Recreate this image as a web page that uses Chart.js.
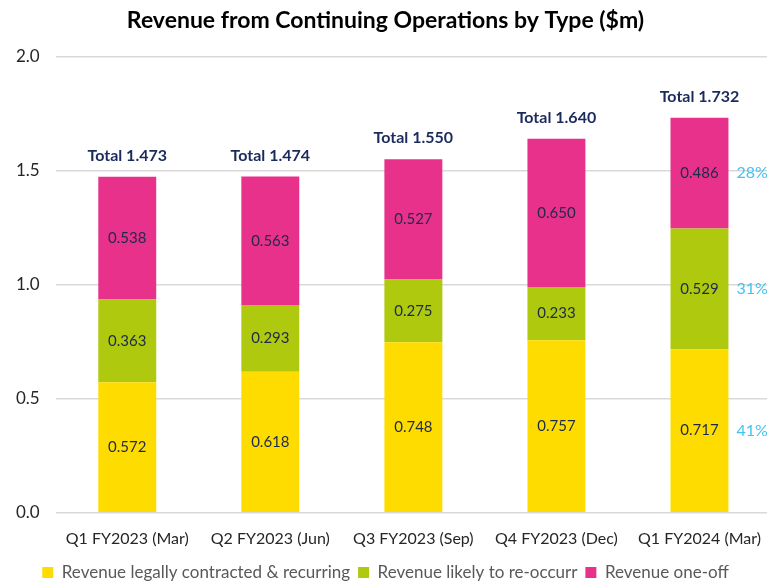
<!DOCTYPE html>
<html>
<head>
<meta charset="utf-8">
<script src="https://cdn.jsdelivr.net/npm/chart.js@4/dist/chart.umd.min.js"></script>
<style>
  html, body { margin: 0; padding: 0; background: #fff; overflow: hidden; }
</style>
</head>
<body>
<canvas id="grafico" width="771" height="583"></canvas>
<script>
const categorias = ['Q1 FY2023 (Mar)', 'Q2 FY2023 (Jun)', 'Q3 FY2023 (Sep)', 'Q4 FY2023 (Dec)', 'Q1 FY2024 (Mar)'];
const contratado = [0.572, 0.618, 0.748, 0.757, 0.717];
const recurrente = [0.363, 0.293, 0.275, 0.233, 0.529];
const unaVez = [0.538, 0.563, 0.527, 0.650, 0.486];
const totales = [1.473, 1.474, 1.550, 1.640, 1.732];
const porcentajes = ['41%', '31%', '28%'];
const ticksY = [0, 0.5, 1.0, 1.5, 2.0];

const fuente = 'Lato, "Open Sans", sans-serif';

// etiquetas de valores, totales y porcentajes
const etiquetas = {
    id: 'etiquetas',
    afterDatasetsDraw(chart) {
        const ctx = chart.ctx;
        ctx.save();
        ctx.textAlign = 'center';
        ctx.textBaseline = 'middle';
        ctx.font = '15px ' + fuente;
        ctx.fillStyle = '#1E2A4A';
        chart.data.datasets.forEach((ds, i) => {
            chart.getDatasetMeta(i).data.forEach((bar, j) => {
                const y = (bar.y + bar.base) / 2;
                ctx.fillText(ds.data[j].toFixed(3), bar.x, y);
            });
        });
        const ultimo = chart.getDatasetMeta(2).data;
        ctx.font = 'bold 16px ' + fuente;
        ctx.fillStyle = '#1B2A5C';
        ultimo.forEach((bar, j) => {
            ctx.fillText('Total ' + totales[j].toFixed(3), bar.x, bar.y - 21);
        });
        ctx.font = '16px ' + fuente;
        ctx.fillStyle = '#42C2F0';
        ctx.textAlign = 'left';
        const n = categorias.length - 1;
        [0, 1, 2].forEach(i => {
            const bar = chart.getDatasetMeta(i).data[n];
            ctx.fillText(porcentajes[i], bar.x + bar.width / 2 + 8, (bar.y + bar.base) / 2);
        });
        ctx.restore();
    }
};

const comun = { categoryPercentage: 1, barPercentage: 0.405, stack: 'ingresos', borderWidth: 0 };

new Chart(document.getElementById('grafico').getContext('2d'), {
    type: 'bar',
    data: {
        labels: categorias,
        datasets: [
            { label: 'Revenue legally contracted & recurring', data: contratado, backgroundColor: '#FFDC00', ...comun },
            { label: 'Revenue likely to re-occurr', data: recurrente, backgroundColor: '#AFC90E', ...comun },
            { label: 'Revenue one-off', data: unaVez, backgroundColor: '#E8318A', ...comun }
        ]
    },
    options: {
        responsive: false,
        animation: false,
        layout: { padding: { left: 0, right: 0, top: 0, bottom: -8 } },
        plugins: {
            title: {
                display: true,
                text: 'Revenue from Continuing Operations by Type ($m)',
                color: '#000',
                font: { family: fuente, size: 23, weight: 'bold' },
                padding: { top: 7, bottom: 22 }
            },
            legend: {
                position: 'bottom',
                labels: {
                    color: '#595959',
                    font: { family: fuente, size: 17 },
                    boxWidth: 11,
                    boxHeight: 11,
                    padding: 8
                }
            },
            tooltip: { enabled: false }
        },
        scales: {
            x: {
                stacked: true,
                grid: { display: false },
                border: { display: false },
                ticks: { color: '#262626', font: { family: fuente, size: 16 }, padding: 8, maxRotation: 0 }
            },
            y: {
                stacked: true,
                min: 0,
                max: 2,
                afterBuildTicks: axis => { axis.ticks = ticksY.map(v => ({ value: v })); },
                grid: { color: '#D9D9D9', lineWidth: 1.5, drawTicks: false },
                border: { display: false },
                ticks: {
                    color: '#262626',
                    font: { family: fuente, size: 17 },
                    padding: 16,
                    callback: v => v.toFixed(1)
                }
            }
        }
    },
    plugins: [etiquetas]
});
</script>
</body>
</html>
